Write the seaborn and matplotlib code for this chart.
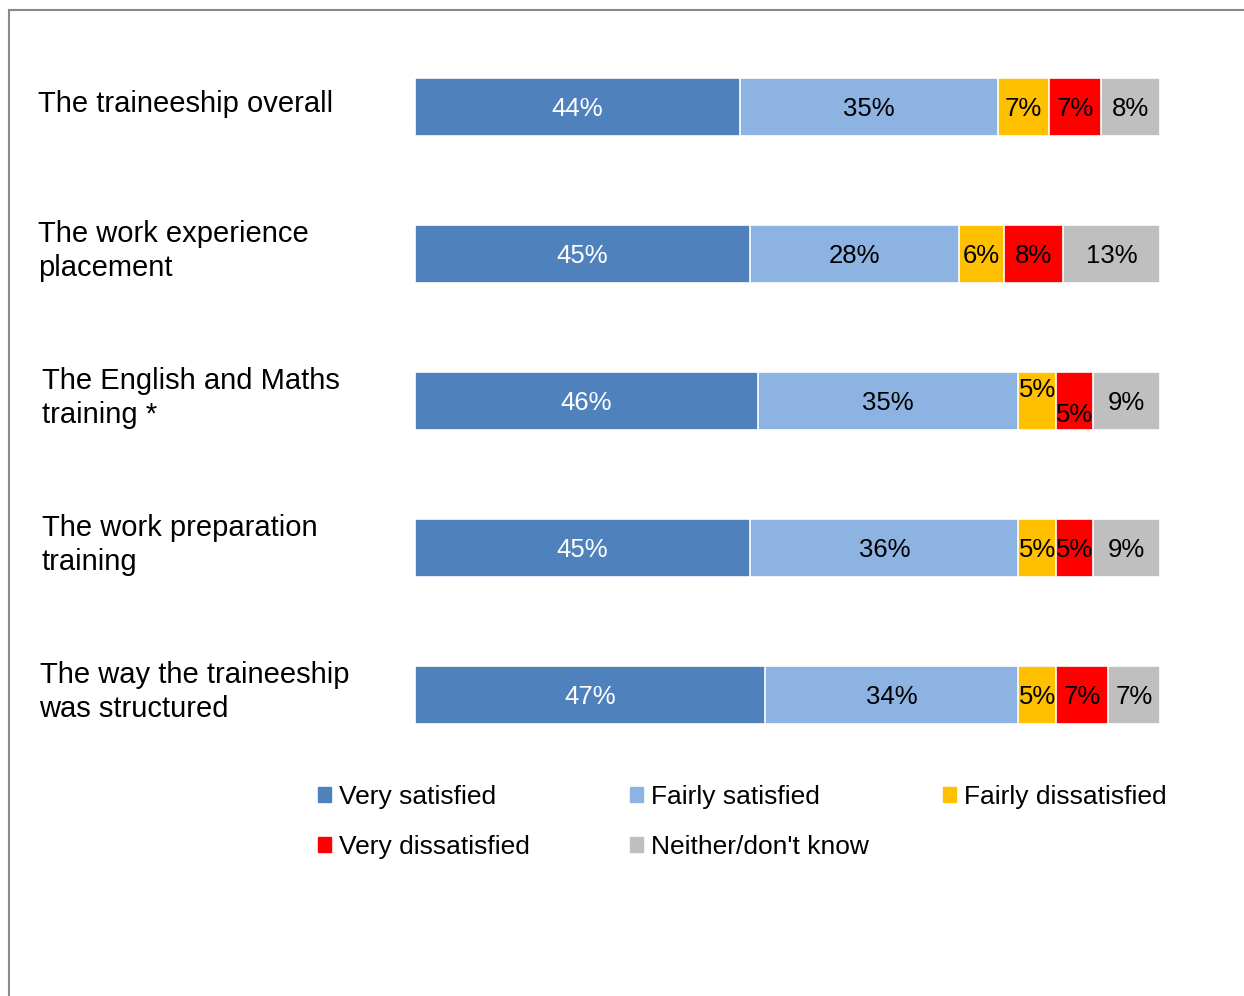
import numpy as np
import pandas as pd
import matplotlib
matplotlib.use('Agg')
import matplotlib.pyplot as plt
import matplotlib.patches as mpatches
import seaborn as sns

# Data
items = [
    'The traineeship overall',
    'The work experience\nplacement',
    'The English and Maths\ntraining *',
    'The work preparation\ntraining',
    'The way the traineeship\nwas structured',
]
very_satisfied = [44, 45, 46, 45, 47]
fairly_satisfied = [35, 28, 35, 36, 34]
fairly_dissatisfied = [7, 6, 5, 5, 5]
very_dissatisfied = [7, 8, 5, 5, 7]
neither = [8, 13, 9, 9, 7]

series_names = ['Very satisfied', 'Fairly satisfied', 'Fairly dissatisfied',
                'Very dissatisfied', "Neither/don't know"]
colors = ['#4F81BD', '#8DB3E2', '#FFC000', '#FF0000', '#BFBFBF']
text_colors = ['white', 'black', 'black', 'black', 'black']

df = pd.DataFrame({
    'item': items,
    series_names[0]: very_satisfied,
    series_names[1]: fairly_satisfied,
    series_names[2]: fairly_dissatisfied,
    series_names[3]: very_dissatisfied,
    series_names[4]: neither,
})

# scale each row to 100% (bars all end at the same place), then stack
vals = df[series_names].to_numpy(dtype=float)
share = vals / vals.sum(axis=1, keepdims=True) * 100
cum = np.cumsum(share, axis=1)

sns.set_style('white')
plt.rcParams['font.family'] = ['Liberation Sans', 'DejaVu Sans']
plt.rcParams['text.color'] = 'black'

fig = plt.figure(figsize=(12.44, 9.96), dpi=100)
ax = fig.add_axes([415 / 1244, 1 - 768.5 / 996, 745 / 1244, 735 / 996])

# stacked bars: draw cumulative totals, longest first
for k in range(len(series_names) - 1, -1, -1):
    plot_df = pd.DataFrame({'item': items, 'value': cum[:, k]})
    sns.barplot(data=plot_df, x='value', y='item', orient='h', color=colors[k],
                width=0.395, edgecolor='white', linewidth=1.2, saturation=1,
                ax=ax, zorder=2 + (len(series_names) - k))

# percentage labels in the middle of each segment
for i in range(len(items)):
    for k in range(len(series_names)):
        mid = cum[i, k] - share[i, k] / 2
        dy = 0.015
        if i == 2 and k == 2:
            dy = -0.075
        elif i == 2 and k == 3:
            dy = 0.095
        ax.text(mid, i + dy, f'{int(vals[i, k])}%', ha='center', va='center',
                color=text_colors[k], fontsize=18.5, zorder=20)

ax.set_xlim(0, 100)
ax.set_ylim(4.5, -0.5)
ax.set_xticks([])
ax.set_yticks([])
ax.set_xlabel('')
ax.set_ylabel('')
sns.despine(ax=ax, left=True, bottom=True)

# category labels, left aligned
label_x = [-0.506, -0.506, -0.501, -0.501, -0.504]
ytrans = ax.get_yaxis_transform()
for i, lab in enumerate(items):
    ax.text(label_x[i], i - 0.02, lab, transform=ytrans, ha='left', va='center',
            fontsize=21, linespacing=1.27, color='black')

# legend: three fixed-width columns
handles = [mpatches.Patch(color=c, label=n) for c, n in zip(colors, series_names)]
columns = [[0, 3], [1, 4], [2]]
col_x = [318 / 1244, 630 / 1244, 943 / 1244]
for cx, idx in zip(col_x, columns):
    leg = fig.legend(handles=[handles[j] for j in idx], loc='upper left',
                     bbox_to_anchor=(cx, 1 - 785 / 996), frameon=False, fontsize=19,
                     handlelength=0.5, handleheight=0.5, handletextpad=0.28,
                     labelspacing=0.98, borderpad=0, borderaxespad=0)
    for t in leg.get_texts():
        t.set_color('black')

# outer frame of the chart area
fig.add_artist(mpatches.Rectangle((9 / 1244, -0.1), 1.2, 1.1 - 10 / 996,
                                  transform=fig.transFigure, fill=False,
                                  edgecolor='#8a8a8a', linewidth=1.5,
                                  clip_on=False))

fig.savefig('out.png', dpi=100)
